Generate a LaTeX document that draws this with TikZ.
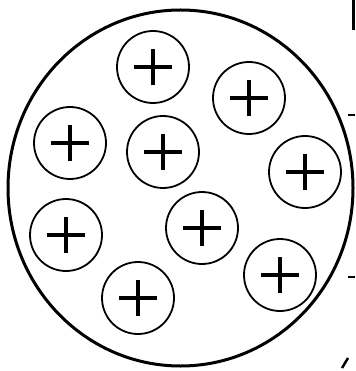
\documentclass[tikz,border=0pt]{standalone}
\begin{document}
\begin{tikzpicture}[x=1pt,y=-1pt,
  ion/.style={circle,draw=black,line width=1.8pt,minimum size=72pt,inner sep=0pt},
  plusmark/.style={line width=3.6pt,black}]
\useasboundingbox (0,0) rectangle (355,371);
\fill[white] (0,0) rectangle (355,371);
% big sphere
\draw[line width=3pt] (180.5,188) ellipse [x radius=172.5, y radius=178];
% ions
\foreach \n/\x/\y in {a/153/67, b/249/98, c/70/143, d/163/152, e/305/172, f/66/235, g/202/228, h/138/298, i/280/275}{
  \node[ion] (\n) at (\x,\y) {};
  \draw[plusmark] ([xshift=-19pt]\n.center) -- ([xshift=19pt]\n.center);
  \draw[plusmark] ([yshift=-18pt]\n.center) -- ([yshift=18pt]\n.center);
}
% fragments at the right edge
\draw[line width=3pt] (353.5,0) -- (353.5,30);
\draw[line width=2.5pt] (348,115) -- (355,115);
\draw[line width=2.5pt] (348,277) -- (355,277);
\draw[line width=2.5pt] (342,368) -- (348,358);
\end{tikzpicture}
\end{document}
